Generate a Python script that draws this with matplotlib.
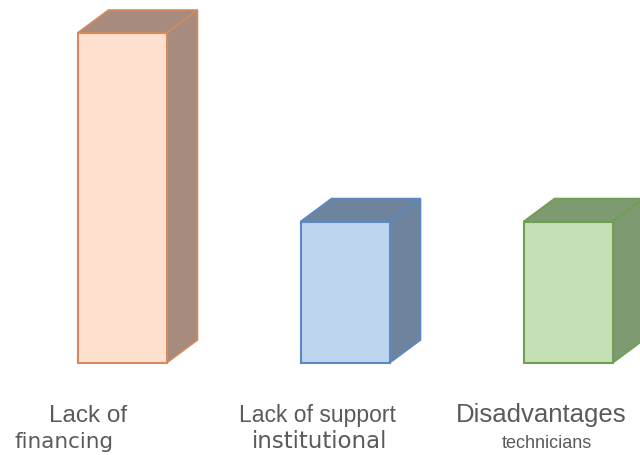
import matplotlib.pyplot as plt
from matplotlib.patches import Polygon

# Obstacle categories and their relative weight
values = [7, 3, 3]
line1 = ["Lack of", "Lack of support", "Disadvantages"]
line2 = ["financing", "institutional", "technicians"]

face_colors = ["#fde0cd", "#bdd6ee", "#c5e0b4"]
edge_colors = ["#d58a5e", "#5b89c4", "#6f9f52"]
shade_colors = ["#a88b7f", "#6e849c", "#7e9a71"]

W, H = 640, 455
fig = plt.figure(figsize=(W / 100, H / 100), dpi=100)
ax = fig.add_axes([0, 0, 1, 1])

# pixel scale: 223 px per category, ~47 px per unit value
px_x = 223.0
px_y = 330.0 / 7
x0_px = 122.0
base_px = 363.0
ax.set_xlim(-x0_px / px_x, (W - x0_px) / px_x)
ax.set_ylim(-(H - base_px) / px_y, base_px / px_y)
ax.axis("off")

width = 89 / px_x
dx = 31 / px_x
dy = 23 / px_y
xs = list(range(len(values)))

for x, v, shade, edge in zip(xs, values, shade_colors, edge_colors):
    r = x + width / 2
    l = x - width / 2
    side = Polygon([(r, 0), (r + dx, dy), (r + dx, v + dy), (r, v)],
                   closed=True, facecolor=shade, edgecolor=edge, lw=1.2, zorder=1)
    top = Polygon([(l, v), (l + dx, v + dy), (r + dx, v + dy), (r, v)],
                  closed=True, facecolor=shade, edgecolor=edge, lw=1.2, zorder=1)
    ax.add_patch(side)
    ax.add_patch(top)

ax.bar(xs, values, width=width, color=face_colors, edgecolor=edge_colors,
       linewidth=1.5, zorder=2)

# two-line category labels under each bar
grey = "#5a5a5a"
l1_pos = [88, 317, 541]
l1_size = [17.5, 16.5, 18.5]
for t, xp, fs in zip(line1, l1_pos, l1_size):
    fig.text(xp / W, 1 - 422 / H, t, ha="center", va="baseline",
             fontsize=fs, color=grey, family="Liberation Sans")

l2_pos = [64, 320, 547]
l2_size = [15.5, 16.5, 13]
l2_font = ["DejaVu Sans", "DejaVu Sans", "Liberation Sans"]
for t, xp, fs, fam in zip(line2, l2_pos, l2_size, l2_font):
    fig.text(xp / W, 1 - 448 / H, t, ha="center", va="baseline",
             fontsize=fs, color=grey, family=fam)

fig.savefig("out.png", dpi=100, facecolor="white")
plt.close(fig)
